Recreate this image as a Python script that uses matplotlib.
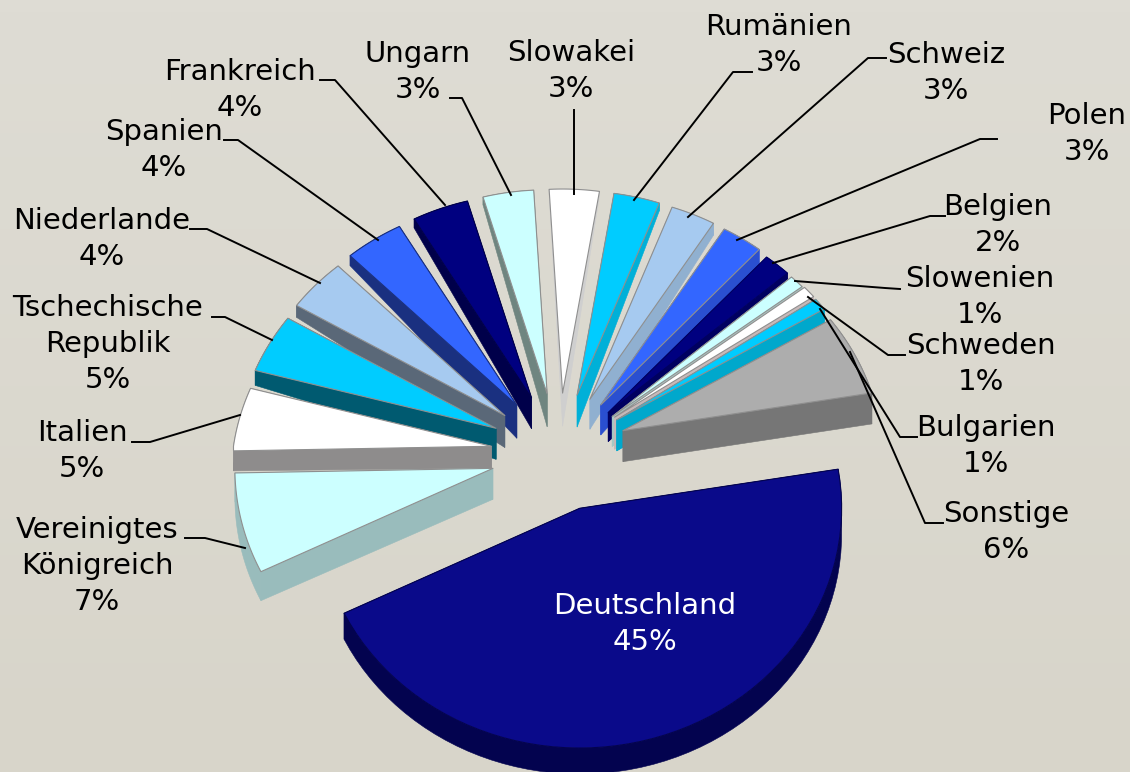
"""
Exploded 3D style pie of country shares, drawn with polygons on a pixel sized axes.
"""

import numpy as np
import matplotlib
matplotlib.use('Agg')  # Headless mode
import matplotlib.pyplot as plt

# Data: clockwise from Deutschland
countries = ['Deutschland', 'Vereinigtes\nKönigreich', 'Italien', 'Tschechische\nRepublik',
             'Niederlande', 'Spanien', 'Frankreich', 'Ungarn', 'Slowakei', 'Rumänien',
             'Schweiz', 'Polen', 'Belgien', 'Slowenien', 'Schweden', 'Bulgarien', 'Sonstige']
percent_labels = [45, 7, 5, 5, 4, 4, 4, 3, 3, 3, 3, 3, 2, 1, 1, 1, 6]
# Slice sizes
shares = [45.4, 6.9, 4.4, 4.25, 4.0, 4.05, 4.0, 3.65, 3.6, 3.3, 3.15, 2.85, 1.85, 1.0, 0.9, 0.9, 5.8]

# Colours
top_colors = ['#0a0a8a', '#ccffff', '#ffffff', '#00ccff', '#a6caf0', '#3366ff', '#000080', '#ccffff',
              '#ffffff', '#00ccff', '#a6caf0', '#3366ff', '#000080', '#ccffff', '#ffffff', '#00ccff', '#adadad']
wall_colors = ['#03034f', '#99bcbc', '#8e8c8c', '#005a70', '#5a6878', '#1a3080', '#00004a', '#6f8580',
               '#cfcfcf', '#00b0d8', '#90b0d0', '#2a4fd0', '#000060', '#a8c8c4', '#c8b8b8', '#00a8cc', '#767676']

# Layout
apex_depth = [25, 31, 22, 31, 32, 33, 31, 33, 33, 32, 30, 30, 29, 30, 32, 31, 31]
outer_depth = [26, 29, 20, 15, 12, 10, 9, 8, 5, 8, 12, 15, 18, 20, 22, 24, 31]
apex_nudge = [4, 5, 3, 0, 0, 0, 0, 0, 0, 0, 0, 0, 2, 2, 0, 0, 0]
label_pos = [(645, 605), (97, 529), (82, 432), (108, 307), (102, 220), (164, 131), (240, 71), (418, 53),
             (571, 52), (779, 26), (946, 54), (1087, 115), (998, 206), (980, 278), (981, 345), (986, 427),
             (1006, 513)]
leaders = [
    None,
    [(185, 538), (205, 538), (245, 548)],
    [(132, 442), (150, 442), (240, 415)],
    [(212, 317), (225, 317), (272, 340)],
    [(190, 229), (207, 229), (320, 283)],
    [(224, 140), (238, 140), (378, 240)],
    [(320, 80), (335, 80), (445, 205)],
    [(450, 98), (462, 98), (511, 195)],
    [(574, 110), (574, 194)],
    [(752, 72), (733, 72), (634, 200)],
    [(886, 58), (868, 58), (688, 217)],
    [(997, 139), (980, 139), (737, 240)],
    [(945, 216), (930, 216), (773, 263)],
    [(900, 289), (885, 288), (795, 281)],
    [(905, 355), (888, 355), (808, 297)],
    [(917, 437), (900, 437), (820, 309)],
    [(943, 523), (925, 523), (850, 352)],
]

CX, CY = 559, 450
EXPLODE_X, EXPLODE_Y = 68, 57
SQUASH = 0.915
START_ANGLE = 9.4


def slice_radius(theta, idx):
    if idx == 0:
        return 262.0
    return 258 - 35 * max(np.sin(theta), 0)


def draw_slice(ax, idx, a_start, a_end):
    """a_start > a_end in degrees, going clockwise."""
    mid = np.radians((a_start + a_end) / 2)
    ax_x = CX + EXPLODE_X * np.cos(mid)
    ax_y = CY - EXPLODE_Y * np.sin(mid) + apex_nudge[idx]

    thetas = np.radians(np.linspace(a_start, a_end, 60))
    radii = np.array([slice_radius(t, idx) for t in thetas])
    arc_x = ax_x + radii * np.cos(thetas)
    arc_y = ax_y - radii * SQUASH * np.sin(thetas)

    d_apex = apex_depth[idx]
    d_out = outer_depth[idx]
    top_x = np.concatenate([[ax_x], arc_x])
    top_y = np.concatenate([[ax_y], arc_y])

    edge = wall_colors[idx] if idx in (0, 5, 6, 12) else '#8f8f8f'

    # Walls: two cut faces and the rim
    for i in (0, len(arc_x) - 1):
        ax.fill([ax_x, arc_x[i], arc_x[i], ax_x],
                [ax_y, arc_y[i], arc_y[i] + d_out, ax_y + d_apex],
                color=wall_colors[idx], lw=0.4, zorder=2)
    ax.fill(np.concatenate([arc_x, arc_x[::-1]]),
            np.concatenate([arc_y, arc_y[::-1] + d_out]),
            color=wall_colors[idx], lw=0.4, zorder=2)

    # Top surface
    ax.fill(top_x, top_y, facecolor=top_colors[idx], edgecolor=edge, lw=0.8, joinstyle='round', zorder=2)


fig = plt.figure(figsize=(11.3, 7.72), dpi=100)
ax = fig.add_axes([0, 0, 1, 1])

# Soft vertical background gradient
grad = np.linspace(0, 1, 64).reshape(-1, 1, 1)
bg_top = np.array([222, 220, 212]) / 255
bg_bot = np.array([216, 213, 202]) / 255
ax.imshow(bg_top + (bg_bot - bg_top) * grad, extent=(0, 1130, 772, 0), aspect='auto', zorder=0)

sweeps = np.array(shares) / sum(shares) * 360
ends = START_ANGLE - np.cumsum(sweeps)
starts = ends + sweeps
mids = np.radians((starts + ends) / 2)

# Painter's order, back slices first
for idx in np.argsort(-np.sin(mids)):
    draw_slice(ax, int(idx), starts[idx], ends[idx])

for path in leaders:
    if path is None:
        continue
    ax.plot([p[0] for p in path], [p[1] for p in path], color='black', lw=1.4, zorder=5)

for name, pct, pos in zip(countries, percent_labels, label_pos):
    color = 'white' if name == 'Deutschland' else 'black'
    lines = name.split('\n') + [f'{pct}%']
    for n, line in enumerate(lines):
        ax.text(pos[0], pos[1] + 9 + n * 36, line, ha='center', va='baseline',
                fontsize=21, color=color, family='DejaVu Sans', zorder=6)

ax.set_xlim(0, 1130)
ax.set_ylim(772, 0)
ax.axis('off')
fig.savefig('out.png', dpi=100)
plt.close(fig)
